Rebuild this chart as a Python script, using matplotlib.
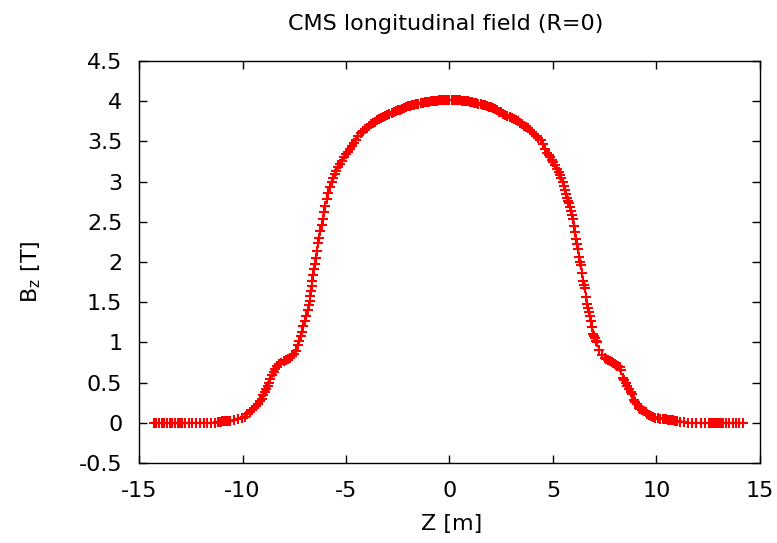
import matplotlib
matplotlib.use("Agg")
import matplotlib.pyplot as plt
import numpy as np

# values, grouped by region along Z
z_tail_left = [-14.30, -14.17, -14.04, -13.91, -13.78, -13.65, -13.52, -13.39, -13.26, -13.13,
               -13.06, -13.03, -13.00, -12.97, -12.94, -12.78, -12.60, -12.42, -12.24, -12.06,
               -11.88, -11.70, -11.52, -11.34]
b_tail_left = [0.0] * 23 + [0.005]

z_flank_left = [-11.20, -11.15, -11.10, -11.05, -11.00, -10.95, -10.90, -10.85, -10.80, -10.75,
                -10.70, -10.65, -10.60, -10.40, -10.20, -10.02, -9.90, -9.78, -9.66, -9.54,
                -9.45, -9.35, -9.25, -9.15, -9.06, -9.01, -8.93, -8.86, -8.79, -8.72,
                -8.65, -8.57, -8.50, -8.43, -8.33, -8.24, -8.12, -8.00, -7.90, -7.80,
                -7.70, -7.61, -7.52, -7.42, -7.32, -7.25, -7.18, -7.13, -7.06, -7.00,
                -6.93, -6.86, -6.80, -6.76, -6.72, -6.69, -6.66, -6.63, -6.59, -6.55,
                -6.50, -6.46, -6.41, -6.36, -6.30, -6.24, -6.18, -6.12, -6.06, -6.00,
                -5.93, -5.86, -5.78, -5.70, -5.63, -5.55, -5.47, -5.38, -5.29, -5.20,
                -5.10, -5.00, -4.90, -4.80, -4.70]
b_flank_left = [0.010, 0.012, 0.014, 0.016, 0.018, 0.020, 0.022, 0.024, 0.025, 0.026,
                0.028, 0.029, 0.030, 0.040, 0.050, 0.060, 0.080, 0.110, 0.130, 0.160,
                0.180, 0.210, 0.240, 0.270, 0.300, 0.350, 0.390, 0.420, 0.460, 0.500,
                0.540, 0.590, 0.630, 0.670, 0.710, 0.730, 0.750, 0.770, 0.780, 0.800,
                0.810, 0.830, 0.860, 0.900, 0.970, 1.020, 1.080, 1.130, 1.200, 1.270,
                1.330, 1.400, 1.460, 1.520, 1.580, 1.640, 1.700, 1.760, 1.840, 1.910,
                1.980, 2.050, 2.140, 2.230, 2.300, 2.380, 2.460, 2.530, 2.620, 2.700,
                2.780, 2.860, 2.930, 2.990, 3.040, 3.090, 3.130, 3.180, 3.220, 3.260,
                3.300, 3.340, 3.370, 3.410, 3.440]

z_core = [-4.6, -4.5, -4.4, -4.3, -4.2, -4.1, -4.0, -3.9, -3.8, -3.7,
          -3.6, -3.5, -3.4, -3.3, -3.2, -3.1, -3.0, -2.9, -2.8, -2.7,
          -2.6, -2.5, -2.4, -2.3, -2.2, -2.1, -2.0, -1.9, -1.8, -1.7,
          -1.6, -1.5, -1.4, -1.3, -1.2, -1.1, -1.0, -0.9, -0.8, -0.7,
          -0.6, -0.5, -0.4, -0.3, -0.2, -0.1, 0.0, 0.1, 0.2, 0.3,
          0.4, 0.5, 0.6, 0.7, 0.8, 0.9, 1.0, 1.1, 1.2, 1.3,
          1.4, 1.5, 1.6, 1.7, 1.8, 1.9, 2.0, 2.1, 2.2, 2.3,
          2.4, 2.5, 2.6, 2.7, 2.8, 2.9, 3.0, 3.1, 3.2, 3.3,
          3.4, 3.5, 3.6, 3.7, 3.8, 3.9, 4.0, 4.1, 4.2, 4.3, 4.4]
b_core = [3.480, 3.520, 3.560, 3.600, 3.630, 3.650, 3.670, 3.690, 3.710, 3.730,
          3.745, 3.760, 3.775, 3.790, 3.800, 3.815, 3.830, 3.845, 3.855, 3.865,
          3.875, 3.885, 3.895, 3.905, 3.915, 3.925, 3.933, 3.940, 3.948, 3.955,
          3.962, 3.968, 3.973, 3.978, 3.983, 3.988, 3.992, 3.996, 4.000, 4.003,
          4.006, 4.009, 4.011, 4.013, 4.014, 4.015, 4.015, 4.015, 4.014, 4.013,
          4.011, 4.009, 4.006, 4.003, 4.000, 3.996, 3.991, 3.986, 3.980, 3.974,
          3.968, 3.962, 3.955, 3.947, 3.939, 3.930, 3.920, 3.910, 3.900, 3.890,
          3.870, 3.860, 3.845, 3.830, 3.815, 3.800, 3.790, 3.780, 3.765, 3.750,
          3.730, 3.710, 3.690, 3.675, 3.660, 3.640, 3.615, 3.590, 3.565, 3.535, 3.510]

z_flank_right = [4.50, 4.61, 4.72, 4.80, 4.86, 4.93, 5.00, 5.10, 5.19, 5.27,
                 5.34, 5.41, 5.48, 5.53, 5.58, 5.63, 5.68, 5.73, 5.77, 5.82,
                 5.87, 5.92, 5.97, 6.01, 6.06, 6.11, 6.16, 6.21, 6.26, 6.31,
                 6.35, 6.40, 6.45, 6.50, 6.55, 6.60, 6.64, 6.69, 6.74, 6.79,
                 6.84, 6.88, 6.93, 6.98, 7.03, 7.08, 7.13, 7.22, 7.37, 7.51,
                 7.58, 7.66, 7.75, 7.85, 7.92, 8.00, 8.07, 8.14, 8.22, 8.30,
                 8.38, 8.45, 8.53, 8.60, 8.67, 8.75, 8.82, 8.91, 8.98, 9.06,
                 9.15, 9.22, 9.30, 9.40, 9.49, 9.56, 9.64, 9.73, 9.83, 9.95,
                 10.07, 10.19, 10.31, 10.40, 10.48, 10.56, 10.65, 10.72, 10.80, 10.89,
                 10.95, 11.00]
b_flank_right = [3.470, 3.400, 3.360, 3.330, 3.300, 3.270, 3.240, 3.200, 3.160, 3.120,
                 3.080, 3.040, 2.990, 2.950, 2.900, 2.850, 2.800, 2.760, 2.730, 2.680,
                 2.630, 2.580, 2.530, 2.450, 2.370, 2.290, 2.220, 2.160, 2.060, 2.000,
                 1.960, 1.860, 1.770, 1.720, 1.680, 1.570, 1.480, 1.430, 1.380, 1.330,
                 1.270, 1.190, 1.110, 1.080, 1.050, 1.020, 1.000, 0.910, 0.850, 0.810,
                 0.800, 0.785, 0.770, 0.760, 0.745, 0.730, 0.720, 0.710, 0.690, 0.660,
                 0.560, 0.530, 0.500, 0.460, 0.420, 0.390, 0.360, 0.290, 0.260, 0.240,
                 0.190, 0.175, 0.160, 0.145, 0.130, 0.115, 0.100, 0.085, 0.075, 0.065,
                 0.060, 0.055, 0.050, 0.045, 0.045, 0.040, 0.040, 0.035, 0.035, 0.030,
                 0.030, 0.020]

z_tail_right = [11.13, 11.33, 11.53, 11.73, 11.93, 12.13, 12.33, 12.53, 12.63, 12.73,
                12.83, 12.93, 13.03, 13.13, 13.23, 13.38, 13.53, 13.68, 13.83, 13.98, 14.18]
b_tail_right = [0.010, 0.008, 0.005, 0.003] + [0.0] * 17

z = z_tail_left + z_flank_left + z_core + z_flank_right + z_tail_right
bz = b_tail_left + b_flank_left + b_core + b_flank_right + b_tail_right

x_ticks = [-15, -10, -5, 0, 5, 10, 15]
y_ticks = [-0.5, 0, 0.5, 1, 1.5, 2, 2.5, 3, 3.5, 4, 4.5]
y_labels = ["-0.5", "0", "0.5", "1", "1.5", "2", "2.5", "3", "3.5", "4", "4.5"]

plt.rcParams["font.family"] = ["DejaVu Sans"]
fs = 16

fig = plt.figure(figsize=(7.77, 5.43), dpi=100)
ax = fig.add_axes([0.179, 0.147, 0.799, 0.741])

ax.plot(z, bz, linestyle="none", marker="+", color="#ff0000",
        markersize=6.5, markeredgewidth=1.5)

ax.set_xlim(-15, 15)
ax.set_ylim(-0.5, 4.5)
ax.set_xticks(x_ticks)
ax.set_xticklabels([str(t) for t in x_ticks])
ax.set_yticks(y_ticks)
ax.set_yticklabels(y_labels)
ax.tick_params(direction="in", length=6, width=1, top=True, right=True,
               labelsize=fs)
ax.tick_params(axis="x", pad=13)
ax.tick_params(axis="y", pad=12)
for s in ax.spines.values():
    s.set_linewidth(1)

fig.text(0.573, 0.955, "CMS longitudinal field (R=0)", fontsize=fs,
         ha="center", va="center")
fig.text(0.581, 0.035, "Z [m]", fontsize=fs, ha="center", va="center")
fig.text(0.040, 0.499, "B$_\\mathregular{z}$ [T]", fontsize=fs,
         ha="center", va="center", rotation=90)

fig.savefig("out.png", dpi=100)
